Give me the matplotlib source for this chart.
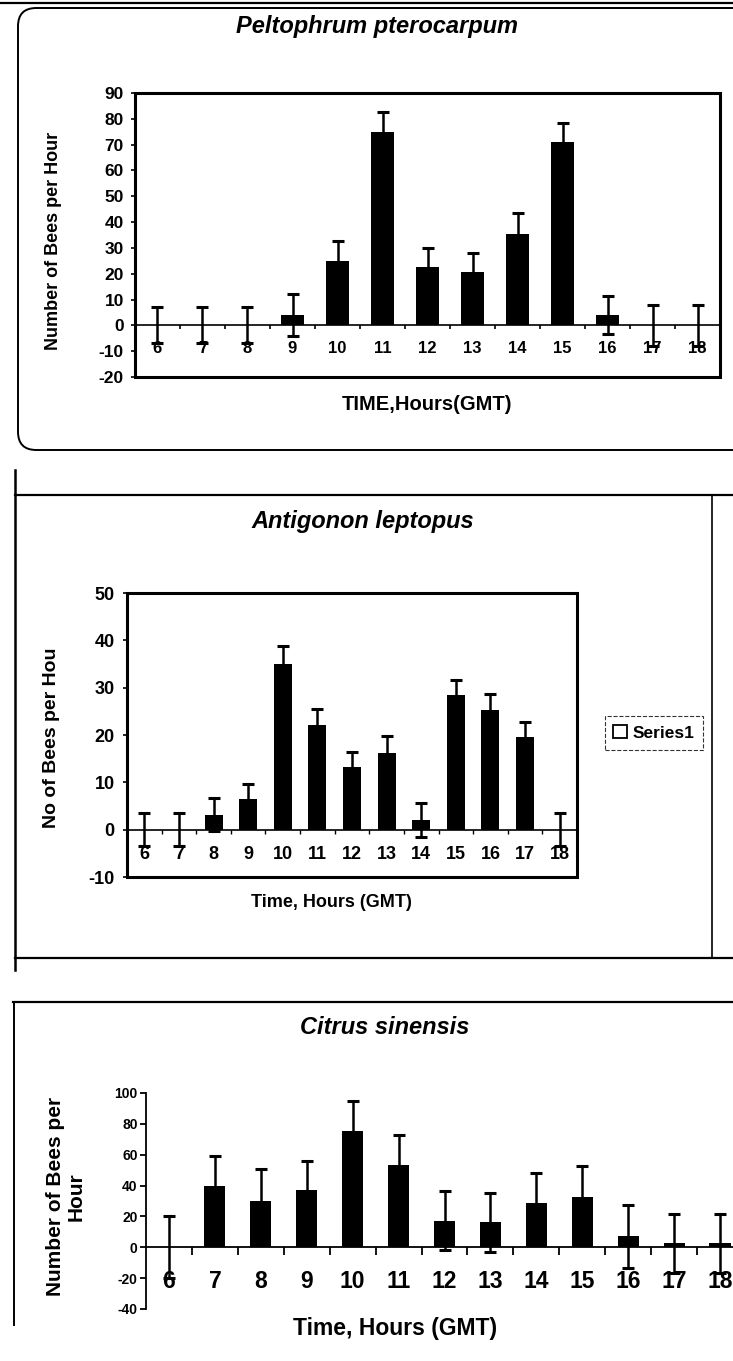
import matplotlib
matplotlib.use("Agg")
import matplotlib.pyplot as plt
from matplotlib.patches import FancyBboxPatch, Patch, Rectangle
from matplotlib.lines import Line2D
from matplotlib.ticker import MultipleLocator

plt.rcParams["font.family"] = ["Liberation Sans", "DejaVu Sans"]
plt.rcParams["font.weight"] = "bold"
plt.rcParams["axes.unicode_minus"] = False

W, H = 733, 1361

HOURS = [6, 7, 8, 9, 10, 11, 12, 13, 14, 15, 16, 17, 18]

# Peltophrum pterocarpum
PELTO_MEAN = [0, 0, 0, 4, 25, 75, 22.5, 20.5, 35.5, 71, 4, 0, 0]
PELTO_ERR = [7, 7, 7, 8, 7.5, 7.5, 7.5, 7.5, 8, 7.5, 7.5, 8, 8]

# Antigonon leptopus
ANTIG_MEAN = [0, 0, 3.2, 6.4, 35, 22.2, 13.2, 16.1, 2, 28.4, 25.2, 19.6, 0]
ANTIG_ERR = [3.5, 3.5, 3.4, 3.3, 3.8, 3.2, 3.2, 3.6, 3.6, 3.2, 3.5, 3.1, 3.5]

# Citrus sinensis
CITRUS_MEAN = [0, 39.8, 30.3, 37.2, 75.3, 53.3, 17.2, 16.1, 28.6, 32.9, 7, 2.5, 2.5]
CITRUS_ERR = [20, 19.6, 20.2, 19, 19.3, 19.7, 19, 19, 19.8, 20.1, 20.5, 19.2, 19.2]


def fx(px):
    return px / W


def fy(py):
    return 1 - py / H


def add_axes_px(fig, left, top, right, bottom):
    return fig.add_axes([fx(left), fy(bottom), (right - left) / W, (bottom - top) / H])


def _bars(ax, means, errs, width, capsize):
    # barras por cima das barras de erro: a metade de baixo some dentro da barra
    # (capsize do matplotlib vira markersize = 2*capsize)
    ax.errorbar(HOURS, means, yerr=errs, fmt="none", ecolor="black", elinewidth=1.8,
                capsize=capsize, capthick=2.2, zorder=2)
    ax.bar(HOURS, means, width=width, color="black", zorder=3)
    ax.set_xlim(HOURS[0] - 0.5, HOURS[-1] + 0.5)
    ax.set_xticks(HOURS)
    ax.set_xticklabels([str(h) for h in HOURS])
    ax.set_xticks([h + 0.5 for h in HOURS[:-1]], minor=True)


def _boxed_zero_axis(ax):
    # caixa em volta + eixo x cruzando no zero (estilo Excel)
    for side in ["top", "right", "left"]:
        ax.spines[side].set_visible(False)
    ax.spines["bottom"].set_position(("data", 0))
    ax.spines["bottom"].set_linewidth(1.2)
    ax.add_patch(Rectangle((0, 0), 1, 1, transform=ax.transAxes, fill=False,
                           lw=2.2, ec="black", zorder=5, clip_on=False))


def plot_pelto(fig):
    ax = add_axes_px(fig, 135, 93, 720, 377)
    _bars(ax, PELTO_MEAN, PELTO_ERR, 0.5, 4.5)
    ax.set_ylim(-20, 90)
    ax.yaxis.set_major_locator(MultipleLocator(10))
    _boxed_zero_axis(ax)
    ax.tick_params(axis="x", which="major", length=0, pad=11, labelsize=12)
    ax.tick_params(axis="x", which="minor", length=3, width=1.2, direction="out")
    ax.tick_params(axis="y", length=3, width=1.2, labelsize=12.5, pad=5)
    ax.set_ylabel("Number of Bees per Hour", fontsize=13, fontweight="bold")
    ax.yaxis.set_label_coords((62 - 135) / 585, 0.48)
    ax.set_xlabel("TIME,Hours(GMT)", fontsize=14.5, fontweight="bold")
    ax.xaxis.set_label_coords(0.5, -0.065)

    fig.text(fx(377), fy(26), "Peltophrum pterocarpum", ha="center", va="center",
             fontsize=17, fontweight="bold", fontstyle="italic")
    fig.add_artist(FancyBboxPatch((fx(18), fy(450)), fx(760) - fx(18), (450 - 8) / H,
                                  boxstyle="round,pad=0,rounding_size=0.025",
                                  mutation_aspect=W / H, fill=False, lw=1.4, ec="black"))
    fig.add_artist(Line2D([0, 1], [fy(3), fy(3)], color="black", lw=1.6))


def plot_antig(fig):
    ax = add_axes_px(fig, 127, 593, 577, 877)
    _bars(ax, ANTIG_MEAN, ANTIG_ERR, 0.52, 4)
    ax.set_ylim(-10, 50)
    ax.yaxis.set_major_locator(MultipleLocator(10))
    _boxed_zero_axis(ax)
    ax.tick_params(axis="x", which="major", length=0, pad=12, labelsize=13)
    ax.tick_params(axis="x", which="minor", length=3, width=1.0, direction="out")
    ax.tick_params(axis="y", length=3, width=1.2, labelsize=13, pad=6)
    ax.set_ylabel("No of Bees per Hou", fontsize=14, fontweight="bold")
    ax.yaxis.set_label_coords((60 - 127) / 450, 0.49)
    ax.set_xlabel("Time, Hours (GMT)", fontsize=13, fontweight="bold")
    ax.xaxis.set_label_coords((331 - 127) / 450, -0.06)

    ax.legend(handles=[Patch(facecolor="white", edgecolor="black", lw=1.3, label="Series1")],
              loc="center left", bbox_to_anchor=(fx(596), fy(733)), bbox_transform=fig.transFigure,
              frameon=True, fancybox=False, edgecolor="black", fontsize=12.5,
              handlelength=0.8, handleheight=0.8, handletextpad=0.3, borderpad=0.5)
    ax.get_legend().get_frame().set_linestyle("--")
    ax.get_legend().get_frame().set_linewidth(0.8)

    fig.text(fx(363), fy(522), "Antigonon leptopus", ha="center", va="center",
             fontsize=17, fontweight="bold", fontstyle="italic")
    # moldura do painel
    fig.add_artist(Line2D([fx(15), 1], [fy(495), fy(495)], color="black", lw=1.6))
    fig.add_artist(Line2D([fx(15), 1], [fy(958), fy(958)], color="black", lw=1.6))
    fig.add_artist(Line2D([fx(712), fx(712)], [fy(495), fy(958)], color="black", lw=1.2))
    fig.add_artist(Line2D([fx(15), fx(15)], [fy(470), fy(970)], color="black", lw=1.8))


def plot_citrus(fig):
    ax = add_axes_px(fig, 146, 1093, 743, 1309)
    _bars(ax, CITRUS_MEAN, CITRUS_ERR, 0.46, 4.5)
    ax.set_ylim(-40, 100)
    ax.yaxis.set_major_locator(MultipleLocator(20))
    for side in ["top", "right"]:
        ax.spines[side].set_visible(False)
    ax.spines["bottom"].set_position(("data", 0))
    ax.spines["bottom"].set_linewidth(1.3)
    ax.spines["left"].set_linewidth(1.3)
    ax.tick_params(axis="x", which="major", length=0, pad=16, labelsize=16.5)
    ax.tick_params(axis="x", which="minor", length=6, width=1.3, direction="out")
    ax.tick_params(axis="y", length=4, width=1.3, labelsize=10, pad=2)
    ax.set_ylabel("Number of Bees per\nHour", fontsize=15, fontweight="bold", linespacing=1.15)
    ax.yaxis.set_label_coords((86 - 146) / 597, 0.52)
    ax.set_xlabel("Time, Hours (GMT)", fontsize=16.5, fontweight="bold")
    ax.xaxis.set_label_coords((395 - 146) / 597, -0.035)

    fig.text(fx(385), fy(1028), "Citrus sinensis", ha="center", va="center",
             fontsize=17, fontweight="bold", fontstyle="italic")
    fig.add_artist(Line2D([fx(13), 1], [fy(1002), fy(1002)], color="black", lw=1.6))
    fig.add_artist(Line2D([fx(14), fx(14)], [fy(1002), fy(1325)], color="black", lw=1.4))


def main():
    fig = plt.figure(figsize=(W / 100, H / 100), dpi=100)
    plot_pelto(fig)
    plot_antig(fig)
    plot_citrus(fig)
    fig.savefig("out.png", dpi=100)


if __name__ == "__main__":
    main()
